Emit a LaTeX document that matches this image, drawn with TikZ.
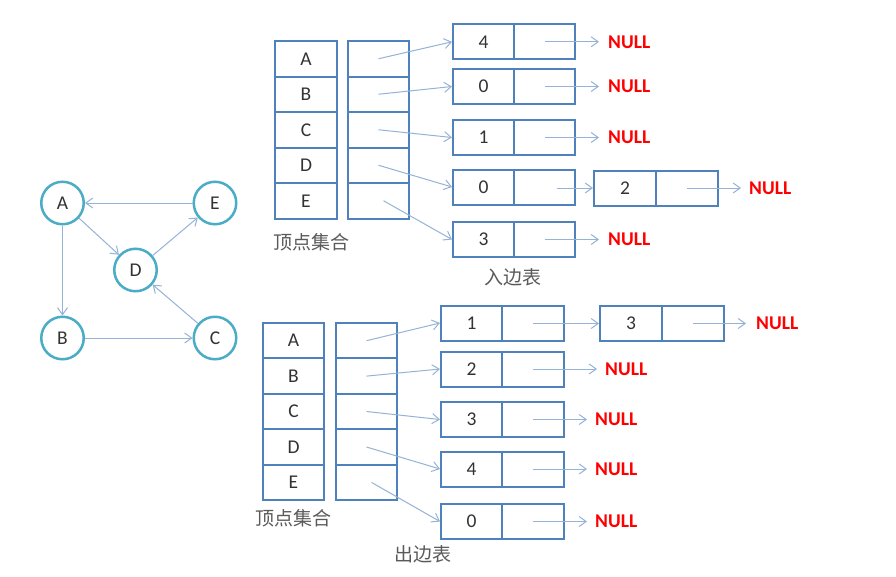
\documentclass[tikz,border=0pt]{standalone}
\usepackage{fontspec}
\setmainfont{Carlito}
\newfontfamily\cjk{Noto Sans CJK SC}
\usetikzlibrary{arrows.meta}
\definecolor{boxblue}{HTML}{4F81BD}
\definecolor{arrowblue}{HTML}{95B3D7}
\definecolor{circteal}{HTML}{4BACC6}
\definecolor{txtdark}{HTML}{333333}
\definecolor{cjkgray}{HTML}{5A5A5A}
\definecolor{nullred}{HTML}{FF0000}
\tikzset{
  cell/.style={draw=boxblue, line width=2pt, minimum width=61.5pt, minimum height=35.5pt, inner sep=0pt, text=txtdark, font=\fontsize{19.5}{19.5}\selectfont},
  lcell/.style={cell, minimum width=61pt, minimum height=35pt},
  ptr/.style={draw=arrowblue, line width=1pt, -{Straight Barb[length=7pt,width=10pt]}},
  nullnode/.style={anchor=west, inner xsep=0pt, inner ysep=2pt, text=nullred, font=\bfseries\fontsize{19.5}{19.5}\selectfont},
  vert/.style={circle, draw=circteal, line width=2.5pt, fill=white, minimum size=42.5pt, inner sep=0pt, text=txtdark, font=\fontsize{19.5}{19.5}\selectfont},
  cjklabel/.style={text=cjkgray, font=\cjk\fontsize{19}{19}\selectfont, inner sep=0pt}
}
\begin{document}
\begin{tikzpicture}[x=1pt, y=-1pt]
\useasboundingbox (0,0) rectangle (896,576);
\fill[white] (0,0) rectangle (896,576);

% ---------- graph ----------
\node[vert] (gA) at (62.5,203) {A};
\node[vert] (gE) at (215,203) {E};
\node[vert] (gD) at (135.5,270) {D};
\node[vert] (gB) at (62.5,338) {B};
\node[vert] (gC) at (215,338) {C};
\draw[ptr] (gE) -- (gA);
\draw[ptr] (gA) -- (gD);
\draw[ptr] (gD) -- (gE);
\draw[ptr] (gA) -- (gB);
\draw[ptr] (gB) -- (gC);
\draw[ptr] (gC) -- (gD);

% ---------- in-edge table (top) ----------
\node[cell] (tvA) at (306,58.75) {A};
\node[cell] (tvB) at (306,94.25) {B};
\node[cell] (tvC) at (306,129.75) {C};
\node[cell] (tvD) at (306,165.25) {D};
\node[cell] (tvE) at (306,200.75) {E};
\node[cell] (tpA) at (378.5,58.75) {};
\node[cell] (tpB) at (378.5,94.25) {};
\node[cell] (tpC) at (378.5,129.75) {};
\node[cell] (tpD) at (378.5,165.25) {};
\node[cell] (tpE) at (378.5,200.75) {};
\node[cjklabel] (tlab) at (311,242) {顶点集合};

\node[lcell] (t1d) at (483.5,41.8) {4};
\node[lcell] (t1n) at (544.5,41.8) {};
\node[lcell] (t2d) at (483.5,86.5) {0};
\node[lcell] (t2n) at (544.5,86.5) {};
\node[lcell] (t3d) at (483.5,137.5) {1};
\node[lcell] (t3n) at (544.5,137.5) {};
\node[lcell] (t4d) at (483.5,187) {0};
\node[lcell] (t4n) at (544.5,187) {};
\node[lcell] (t5d) at (483.5,239.5) {3};
\node[lcell] (t5n) at (544.5,239.5) {};
\node[lcell, minimum width=62pt] (t6d) at (625,188) {2};
\node[lcell, minimum width=62pt] (t6n) at (687,188) {};

\node[nullnode] (tn1) at (608,41.8) {NULL};
\node[nullnode] (tn2) at (608,86.5) {NULL};
\node[nullnode] (tn3) at (608,137.5) {NULL};
\node[nullnode] (tn4) at (749,188) {NULL};
\node[nullnode] (tn5) at (608,239.5) {NULL};
\node[cjklabel] (tin) at (513,277) {入边表};

\draw[ptr] (tpA.center) -- (t1d.west);
\draw[ptr] (tpB.center) -- (t2d.west);
\draw[ptr] (tpC.center) -- (t3d.west);
\draw[ptr] (tpD.center) -- (t4d.west);
\draw[ptr] ([xshift=5pt]tpE.center) -- (t5d.west);
\draw[ptr, shorten >=9pt] (t1n.center) -- (tn1.west);
\draw[ptr, shorten >=9pt] (t2n.center) -- (tn2.west);
\draw[ptr, shorten >=9pt] (t3n.center) -- (tn3.west);
\draw[ptr, shorten >=9pt] (t5n.center) -- (tn5.west);
\draw[ptr] ([xshift=12pt]t4n.center |- t6d.west) -- (t6d.west);
\draw[ptr, shorten >=8pt] (t6n.center) -- (tn4.west);

% ---------- out-edge table (bottom) ----------
\node[cell, minimum height=35.4pt] (bvA) at (293.5,340.7) {A};
\node[cell, minimum height=35.4pt] (bvB) at (293.5,376.1) {B};
\node[cell, minimum height=35.4pt] (bvC) at (293.5,411.5) {C};
\node[cell, minimum height=35.4pt] (bvD) at (293.5,447) {D};
\node[cell, minimum height=35.4pt] (bvE) at (293.5,482.4) {E};
\node[cell, minimum height=35.4pt] (bpA) at (366.5,340.7) {};
\node[cell, minimum height=35.4pt] (bpB) at (366.5,376.1) {};
\node[cell, minimum height=35.4pt] (bpC) at (366.5,411.5) {};
\node[cell, minimum height=35.4pt] (bpD) at (366.5,447) {};
\node[cell, minimum height=35.4pt] (bpE) at (366.5,482.4) {};
\node[cjklabel] (blab) at (293,518) {顶点集合};

\node[lcell] (b1d) at (471.5,323) {1};
\node[lcell, minimum width=62pt] (b1n) at (533,323) {};
\node[lcell] (b2d) at (471.5,369) {2};
\node[lcell, minimum width=62pt] (b2n) at (533,369) {};
\node[lcell] (b3d) at (471.5,419.5) {3};
\node[lcell, minimum width=62pt] (b3n) at (533,419.5) {};
\node[lcell] (b4d) at (471.5,469) {4};
\node[lcell, minimum width=62pt] (b4n) at (533,469) {};
\node[lcell] (b5d) at (471.5,521.5) {0};
\node[lcell, minimum width=62pt] (b5n) at (533,521.5) {};
\node[lcell, minimum width=62pt] (b6d) at (631,323.5) {3};
\node[lcell, minimum width=62pt] (b6n) at (693,323.5) {};

\node[nullnode] (bn1) at (756,323.5) {NULL};
\node[nullnode] (bn2) at (605,369) {NULL};
\node[nullnode] (bn3) at (595,419.5) {NULL};
\node[nullnode] (bn4) at (595,469) {NULL};
\node[nullnode] (bn5) at (595,521.5) {NULL};
\node[cjklabel] (bout) at (423,554) {出边表};

\draw[ptr] (bpA.center) -- (b1d.west);
\draw[ptr] (bpB.center) -- (b2d.west);
\draw[ptr] (bpC.center) -- (b3d.west);
\draw[ptr] (bpD.center) -- (b4d.west);
\draw[ptr] ([xshift=5pt]bpE.center) -- (b5d.west);
\draw[ptr] (b1n.center |- b6d.west) -- (b6d.west);
\draw[ptr, shorten >=10pt] (b6n.center) -- (bn1.west);
\draw[ptr, shorten >=8pt] (b2n.center) -- (bn2.west);
\draw[ptr, shorten >=8pt] (b3n.center) -- (bn3.west);
\draw[ptr, shorten >=8pt] (b4n.center) -- (bn4.west);
\draw[ptr, shorten >=8pt] (b5n.center) -- (bn5.west);
\end{tikzpicture}
\end{document}
